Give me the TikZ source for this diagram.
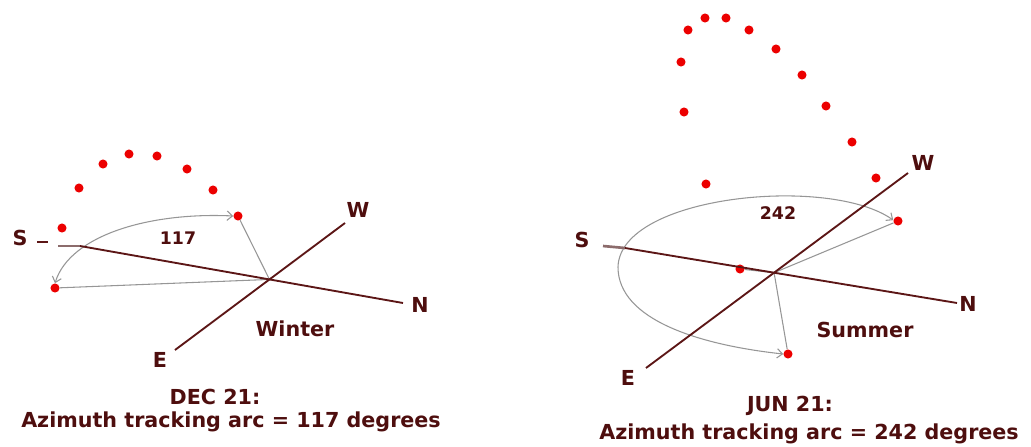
\documentclass[tikz,border=0pt]{standalone}
\usepackage{fontspec}
\setmainfont{DejaVu Sans}
\usetikzlibrary{arrows.meta}
\definecolor{sunred}{RGB}{236,0,0}
\definecolor{textbrown}{RGB}{78,14,14}
\definecolor{axisbrown}{RGB}{92,22,22}
\definecolor{stubbrown}{RGB}{140,108,108}
\definecolor{trackgray}{RGB}{150,150,150}
\tikzset{
  sundot/.style={circle,fill=sunred,inner sep=0pt,minimum size=6.8pt},
  axisline/.style={draw=axisbrown,line width=1.4pt},
  stubline/.style={draw=stubbrown,line width=2pt},
  trackline/.style={draw=trackgray,line width=0.8pt},
  trackarc/.style={draw=trackgray,line width=0.8pt,{Straight Barb[length=4pt,width=7pt]}-{Straight Barb[length=4pt,width=7pt]}},
  lbl/.style={text=textbrown,inner sep=0pt,font=\bfseries\fontsize{15.5}{18}\selectfont},
  numlbl/.style={text=textbrown,inner sep=0pt,font=\bfseries\fontsize{13}{15}\selectfont},
  caption/.style={text=textbrown,inner sep=0pt,font=\bfseries\fontsize{15.5}{18}\selectfont}
}
\begin{document}
\begin{tikzpicture}[x=0.75pt,y=-0.75pt]
\useasboundingbox (0,0) rectangle (1031,446);

% ===== Winter =====
\coordinate (wSs) at (37,242);
\coordinate (wSt) at (48,242);
\coordinate (wLa) at (58,246);
\coordinate (wS) at (80,246);
\coordinate (wN) at (403,303);
\coordinate (wE) at (175,350);
\coordinate (wW) at (345,223);
\coordinate (wc) at (intersection of wS--wN and wE--wW);

\node[sundot] (w1) at (62,228) {};
\node[sundot] (w2) at (79,188) {};
\node[sundot] (w3) at (103,164) {};
\node[sundot] (w4) at (129,154) {};
\node[sundot] (w5) at (157,156) {};
\node[sundot] (w6) at (187,169) {};
\node[sundot] (w7) at (213,190) {};
\node[sundot] (w8) at (238,216) {};
\node[sundot] (w9) at (55,288) {};

\draw[trackline] (wc) -- (w8);
\draw[trackline] (wc) -- (w9);
\draw[trackarc] (w9.north) .. controls (70,235) and (150,212) .. (w8.west);

\draw[axisline] (wSs) -- (wSt);
\draw[stubline] (wLa) -- (wS);
\draw[axisline] (wS) -- (wN);
\draw[axisline] (wE) -- (wW);

\node[lbl] (wSl) at (20,238) {S};
\node[lbl] (wWl) at (358,210) {W};
\node[lbl] (wNl) at (420,305) {N};
\node[lbl] (wEl) at (160,360) {E};
\node[lbl] (wint) at (295,329) {Winter};
\node[numlbl] (w117) at (178,238) {117};
\node[caption] (wdate) at (215,397) {DEC 21:};
\node[caption] (wcap) at (231,422) {Azimuth tracking arc = 117 degrees};

% ===== Summer =====
\coordinate (sLa) at (603,246);
\coordinate (sS) at (625,248);
\coordinate (sN) at (957,303);
\coordinate (sE) at (646,368);
\coordinate (sW) at (908,173);
\coordinate (sc) at (intersection of sS--sN and sE--sW);

\node[sundot] (s1) at (705,18) {};
\node[sundot] (s2) at (726,18) {};
\node[sundot] (s3) at (688,30) {};
\node[sundot] (s4) at (749,30) {};
\node[sundot] (s5) at (681,62) {};
\node[sundot] (s6) at (776,49) {};
\node[sundot] (s7) at (802,75) {};
\node[sundot] (s8) at (684,112) {};
\node[sundot] (s9) at (826,106) {};
\node[sundot] (s10) at (852,142) {};
\node[sundot] (s11) at (706,184) {};
\node[sundot] (s12) at (876,178) {};
\node[sundot] (s13) at (898,221) {};
\node[sundot] (s14) at (740,269) {};
\node[sundot] (s15) at (788,354) {};

\draw[trackline] (sc) -- (s13);
\draw[trackline] (sc) -- (s15);
\draw[trackline] (sc) -- (s14);
\draw[trackarc] (s13.170) .. controls (830,175) and (620,195) .. (618,267)
   .. controls (618,320) and (700,345) .. (s15.west);

\draw[stubline] (sLa) -- (sS);
\draw[axisline] (sS) -- (sN);
\draw[axisline] (sE) -- (sW);

\node[lbl] (sSl) at (582,240) {S};
\node[lbl] (sWl) at (923,163) {W};
\node[lbl] (sNl) at (968,304) {N};
\node[lbl] (sEl) at (628,378) {E};
\node[lbl] (summ) at (865,330) {Summer};
\node[numlbl] (s242) at (778,213) {242};
\node[caption] (sdate) at (790,406) {JUN 21:};
\node[caption] (scap) at (809,434) {Azimuth tracking arc = 242 degrees};
\end{tikzpicture}
\end{document}
